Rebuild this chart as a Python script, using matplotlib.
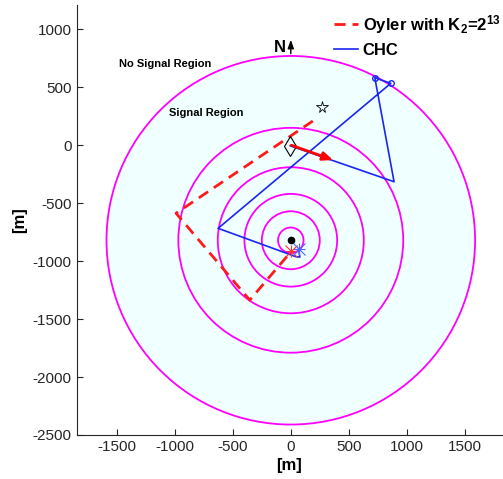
import matplotlib
matplotlib.use("Agg")
import matplotlib.pyplot as plt
from matplotlib.patches import Circle

plt.rcParams['font.family'] = ['Liberation Sans', 'DejaVu Sans']
plt.rcParams['mathtext.fontset'] = 'custom'
plt.rcParams['mathtext.rm'] = 'Liberation Sans:bold'
plt.rcParams['mathtext.bf'] = 'Liberation Sans:bold'
plt.rcParams['mathtext.default'] = 'rm'
plt.rcParams['axes.unicode_minus'] = False

# ---- data ----
ring_center_x = 0
ring_center_y = -820
ring_radii = [110, 250, 400, 630, 970, 1590]

oyler_x = [190, -990, -354, 5]
oyler_y = [209, -587, -1336, -915]

chc_x = [-5, 891, 725, 863, -627, 45, 78, 68]
chc_y = [-5, -315, 582, 534, -717, -962, -965, -893]

start_x, start_y = -9, -7
target_x, target_y = 273, 332
arrow_start = (5, 0)
arrow_end = (365, -128)

xticks = [-1500, -1000, -500, 0, 500, 1000, 1500]
yticks = [1000, 500, 0, -500, -1000, -1500, -2000, -2500]

fig = plt.figure(figsize=(5.03, 4.79), dpi=100)
ax = fig.add_axes([0.1525, 0.0919, 0.845, 0.8977])
ax.set_xlim(-1847, 1820)
ax.set_ylim(-2500, 1210)

# filled outer region
ax.add_patch(Circle((ring_center_x, ring_center_y), ring_radii[-1],
                    facecolor=(0.94, 1.0, 1.0), edgecolor='none', zorder=0))
for r in ring_radii:
    ax.add_patch(Circle((ring_center_x, ring_center_y), r, facecolor='none',
                        edgecolor=(1, 0, 1), lw=1.3, zorder=1))

ax.plot([ring_center_x], [ring_center_y], 'o', color='k', ms=4.5, zorder=5)

ax.plot(oyler_x, oyler_y, color=(1, 0.1, 0.1), lw=2.0, dashes=(4, 2.5), zorder=3,
        label=r'Oyler with K$_{2}$=2$^{13}$')
ax.plot(chc_x, chc_y, color=(0.1, 0.15, 0.95), lw=1.2, zorder=3, label='CHC')
ax.plot(chc_x[2:4], chc_y[2:4], 'o', mfc='none', mec=(0.1, 0.15, 0.95), ms=4, mew=1, zorder=4)

for mk in ['+', 'x']:
    ax.plot([oyler_x[-1]], [oyler_y[-1]], mk, color=(1, 0.2, 0.2), ms=8, mew=0.8, zorder=4)
    ax.plot([chc_x[-1]], [chc_y[-1]], mk, color=(0.3, 0.4, 1.0), ms=8, mew=0.8, zorder=4)

ax.plot([start_x], [start_y], 'd', mfc='none', mec='k', ms=10, mew=0.8, zorder=5)
ax.plot([target_x], [target_y], '*', mfc='none', mec='k', ms=8.5, mew=0.6, zorder=5)

ax.annotate('', xy=arrow_end, xytext=arrow_start,
            arrowprops=dict(arrowstyle='-|>,head_length=0.6,head_width=0.25',
                            color=(1, 0, 0), lw=2.0, shrinkA=0, shrinkB=0), zorder=6)

# north arrow
ax.annotate('', xy=(0, 910), xytext=(0, 790),
            arrowprops=dict(arrowstyle='-|>,head_length=0.5,head_width=0.18',
                            color='k', lw=1.0, shrinkA=0, shrinkB=0))
ax.text(-95, 843, 'N', fontsize=12, fontweight='bold', ha='center', va='center')

ax.text(-1083, 700, 'No Signal Region', fontsize=8, fontweight='bold', ha='center', va='center')
ax.text(-729, 277, 'Signal Region', fontsize=8, fontweight='bold', ha='center', va='center')

ax.set_xticks(xticks)
ax.set_yticks(yticks)
ax.tick_params(direction='in', length=4, labelsize=11, colors=(0.15, 0.15, 0.15))
for s in ['top', 'right']:
    ax.spines[s].set_visible(False)
for s in ['left', 'bottom']:
    ax.spines[s].set_color((0.15, 0.15, 0.15))
ax.set_xlabel('[m]', fontsize=12, fontweight='bold', labelpad=3)
ax.set_ylabel('[m]', fontsize=12, fontweight='bold', labelpad=4)

leg = ax.legend(loc='upper right', bbox_to_anchor=(1.005, 0.99), frameon=False,
                borderaxespad=0, borderpad=0.2,
                prop={'size': 12, 'weight': 'bold'}, handlelength=1.4,
                handletextpad=0.3, labelspacing=0.42)

fig.savefig('out.png', dpi=100)
